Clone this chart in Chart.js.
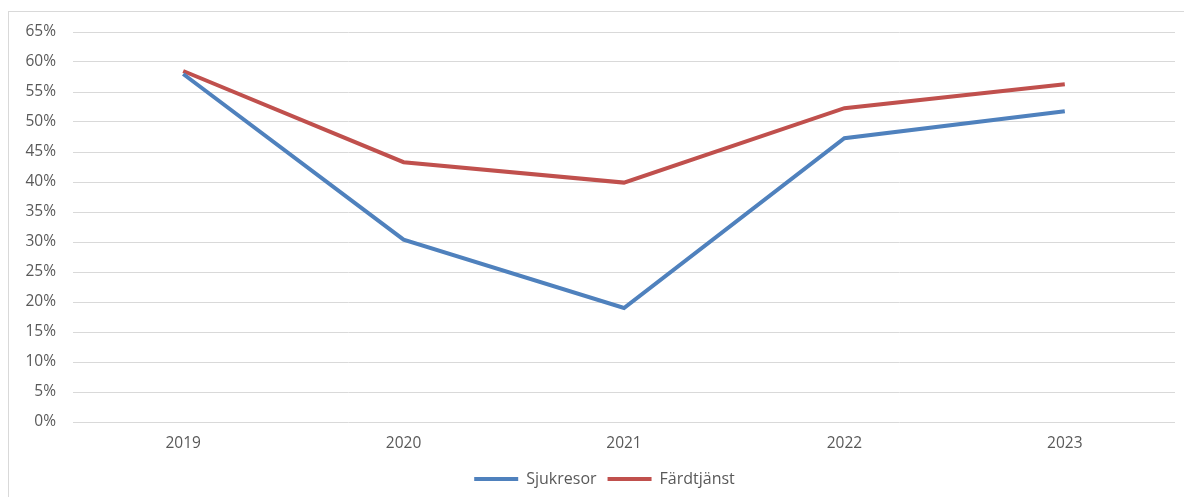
<!DOCTYPE html>
<html>
<head>
<meta charset="utf-8">
<script src="https://cdn.jsdelivr.net/npm/chart.js@4"></script>
<style>
  html, body { margin: 0; padding: 0; background: #fff; }
  #wrap { position: relative; width: 1184px; height: 497px; overflow: hidden; }
  #frame { position: absolute; left: 8px; top: 11px; width: 1200px; height: 520px; border: 1px solid #d9d9d9; box-sizing: border-box; }
  canvas { position: absolute; left: 0; top: 0; }
</style>
</head>
<body>
<div id="wrap">
  <div id="frame"></div>
  <canvas id="chart" width="1184" height="497"></canvas>
</div>
<script>
// years on the x axis
const years = ['2019', '2020', '2021', '2022', '2023'];
// share in percent
const sjukresor = [58.0, 30.4, 19.0, 47.3, 51.8];
const fardtjanst = [58.5, 43.3, 39.9, 52.3, 56.3];

const textColor = '#595959';
const tickFont = { family: "'Open Sans', sans-serif", size: 15.5 };
const legendFont = { family: "'Open Sans', sans-serif", size: 16 };

// legend in the original sits centred under the whole frame, a bit right of the plot centre
const legendShift = {
  id: 'legendShift',
  afterLayout(chart) {
    chart.legend.left += 17;
    chart.legend.right += 17;
  }
};

const ctx = document.getElementById('chart').getContext('2d');
new Chart(ctx, {
  type: 'line',
  data: {
    labels: years,
    datasets: [
      {
        label: 'Sjukresor',
        data: sjukresor,
        borderColor: '#4f81bd',
        backgroundColor: '#4f81bd',
        borderWidth: 4,
        pointRadius: 0,
        tension: 0
      },
      {
        label: 'Färdtjänst',
        data: fardtjanst,
        borderColor: '#c0504d',
        backgroundColor: '#c0504d',
        borderWidth: 4,
        pointRadius: 0,
        tension: 0
      }
    ]
  },
  options: {
    responsive: false,
    animation: false,
    layout: { padding: { top: 32, right: 9, bottom: 0, left: 0 } },
    scales: {
      x: {
        offset: true,
        grid: { display: false, drawTicks: false },
        border: { display: false },
        ticks: { color: textColor, font: tickFont, padding: 12 },
        afterFit: s => { s.height = 38; }
      },
      y: {
        min: 0,
        max: 65,
        ticks: {
          stepSize: 5,
          color: textColor,
          font: tickFont,
          padding: 17,
          callback: v => v + '%'
        },
        grid: { color: '#d9d9d9', lineWidth: 1, drawTicks: false },
        border: { display: false },
        afterFit: s => { s.width = 73; }
      }
    },
    plugins: {
      legend: {
        position: 'bottom',
        labels: {
          color: textColor,
          font: legendFont,
          usePointStyle: true,
          pointStyle: 'line',
          pointStyleWidth: 44,
          boxHeight: 4,
          padding: 11
        }
      },
      tooltip: { enabled: false }
    }
  },
  plugins: [legendShift]
});
</script>
</body>
</html>
